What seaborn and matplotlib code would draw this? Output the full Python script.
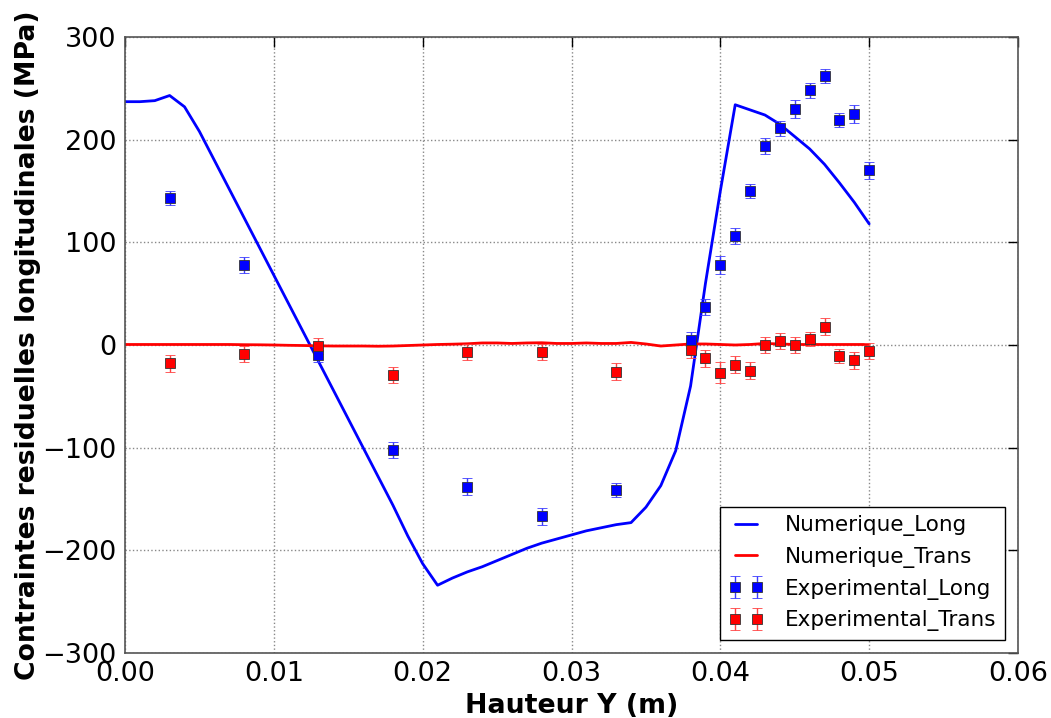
import numpy as np
import pandas as pd
import matplotlib
matplotlib.use("Agg")
import matplotlib.pyplot as plt
import seaborn as sns

# Numerical curves
x_num = [0.000, 0.001, 0.002, 0.003, 0.004, 0.005, 0.006, 0.007, 0.008, 0.009,
         0.010, 0.011, 0.012, 0.013, 0.014, 0.015, 0.016, 0.017, 0.018, 0.019,
         0.020, 0.021, 0.022, 0.023, 0.024, 0.025, 0.026, 0.027, 0.028, 0.029,
         0.030, 0.031, 0.032, 0.033, 0.034, 0.035, 0.036, 0.037, 0.038, 0.039,
         0.040, 0.041, 0.042, 0.043, 0.044, 0.045, 0.046, 0.047, 0.048, 0.049,
         0.050]
num_long = [237, 237, 238, 243, 232, 208, 180, 152, 124, 96,
            68, 40, 12, -16, -44, -72, -100, -128, -156, -186,
            -213, -234, -227, -221, -216, -210, -204, -198, -193, -189,
            -185, -181, -178, -175, -173, -158, -137, -103, -40, 60,
            150, 234, 229, 224, 215, 203, 191, 176, 158, 139,
            118]
num_trans = [0.5, 0.5, 0.5, 0.5, 0.5, 0.5, 0.5, 0.5, 0.3, 0.2,
             0.0, -0.3, -0.5, -0.8, -1.0, -1.0, -1.0, -1.2, -1.0, -0.5,
             0.0, 0.5, 0.8, 1.2, 2.0, 2.0, 1.5, 2.0, 2.2, 1.5,
             1.5, 2.0, 1.5, 1.5, 2.5, 1.0, -1.0, 0.0, 1.0, 1.0,
             0.5, 0.0, 0.5, 1.5, 1.0, 0.5, 0.5, 0.5, 0.5, 0.5,
             0.5]

# Experimental points
x_exp = [0.003, 0.008, 0.013, 0.018, 0.023, 0.028, 0.033, 0.038, 0.039, 0.040,
         0.041, 0.042, 0.043, 0.044, 0.045, 0.046, 0.047, 0.048, 0.049, 0.050]
exp_long = [143, 78, -10, -102, -138, -167, -141, 5, 37, 78,
            106, 150, 194, 211, 230, 248, 262, 219, 225, 170]
err_long = [7, 8, 7, 8, 8, 8, 7, 8, 8, 9, 8, 7, 8, 7, 9, 7, 7, 7, 9, 8]
exp_trans = [-18, -9, -1, -29, -7, -7, -26, -5, -13, -27,
             -19, -25, 0, 4, 0, 6, 18, -11, -15, -6]
err_trans = [8, 8, 8, 8, 8, 8, 8, 8, 8, 10, 8, 8, 8, 8, 8, 7, 8, 7, 8, 8]

sns.set_style("white")
plt.rcParams['font.family'] = ['DejaVu Sans']
plt.rcParams['text.color'] = 'black'
plt.rcParams['axes.labelcolor'] = 'black'
plt.rcParams['xtick.color'] = 'black'
plt.rcParams['ytick.color'] = 'black'

fig = plt.figure(figsize=(10.51, 7.18), dpi=100)
ax = fig.add_axes([125/1051, 1-653/718, (1018-125)/1051, (653-37)/718])

df = pd.DataFrame({"x": x_num, "long": num_long, "trans": num_trans})
sns.lineplot(data=df, x="x", y="long", ax=ax, color="blue", lw=2, label="Numerique_Long")
sns.lineplot(data=df, x="x", y="trans", ax=ax, color="red", lw=2, label="Numerique_Trans")

ax.errorbar(x_exp, exp_long, yerr=err_long, fmt="s", color="blue", ecolor="#3b3bff",
            elinewidth=1, capsize=3.5, markersize=7, markeredgecolor="#333333",
            markeredgewidth=0.6, label="Experimental_Long")
ax.errorbar(x_exp, exp_trans, yerr=err_trans, fmt="s", color="red", ecolor="#ff4040",
            elinewidth=1, capsize=3.5, markersize=7, markeredgecolor="#333333",
            markeredgewidth=0.6, label="Experimental_Trans")

ax.set_xlim(0, 0.06)
ax.set_ylim(-300, 300)
ax.set_xticks([0, 0.01, 0.02, 0.03, 0.04, 0.05, 0.06])
ax.set_xticklabels(["0.00", "0.01", "0.02", "0.03", "0.04", "0.05", "0.06"])
ax.set_yticks([-300, -200, -100, 0, 100, 200, 300])
ax.set_yticklabels(["\u2212300", "\u2212200", "\u2212100", "0", "100", "200", "300"])
ax.tick_params(axis="both", direction="in", labelsize=19.5, length=7, width=1,
               top=True, right=True, pad=6, colors="black")
ax.grid(True, linestyle=":", color="#888888", linewidth=1)
for s in ax.spines.values():
    s.set_color("#555555")
    s.set_linewidth(1.2)
ax.set_xlabel("Hauteur Y (m)", fontsize=19.3, fontweight="bold", labelpad=4)
ax.set_ylabel("Contraintes residuelles longitudinales (MPa)", fontsize=19.2,
              fontweight="bold", labelpad=1)

leg = ax.legend(loc="lower right", fontsize=15.5, numpoints=2, fancybox=False,
                framealpha=1, edgecolor="black", borderaxespad=0.6,
                handlelength=1.6, handletextpad=1.0)
leg.get_frame().set_linewidth(1)

fig.savefig("out.png", dpi=100)
